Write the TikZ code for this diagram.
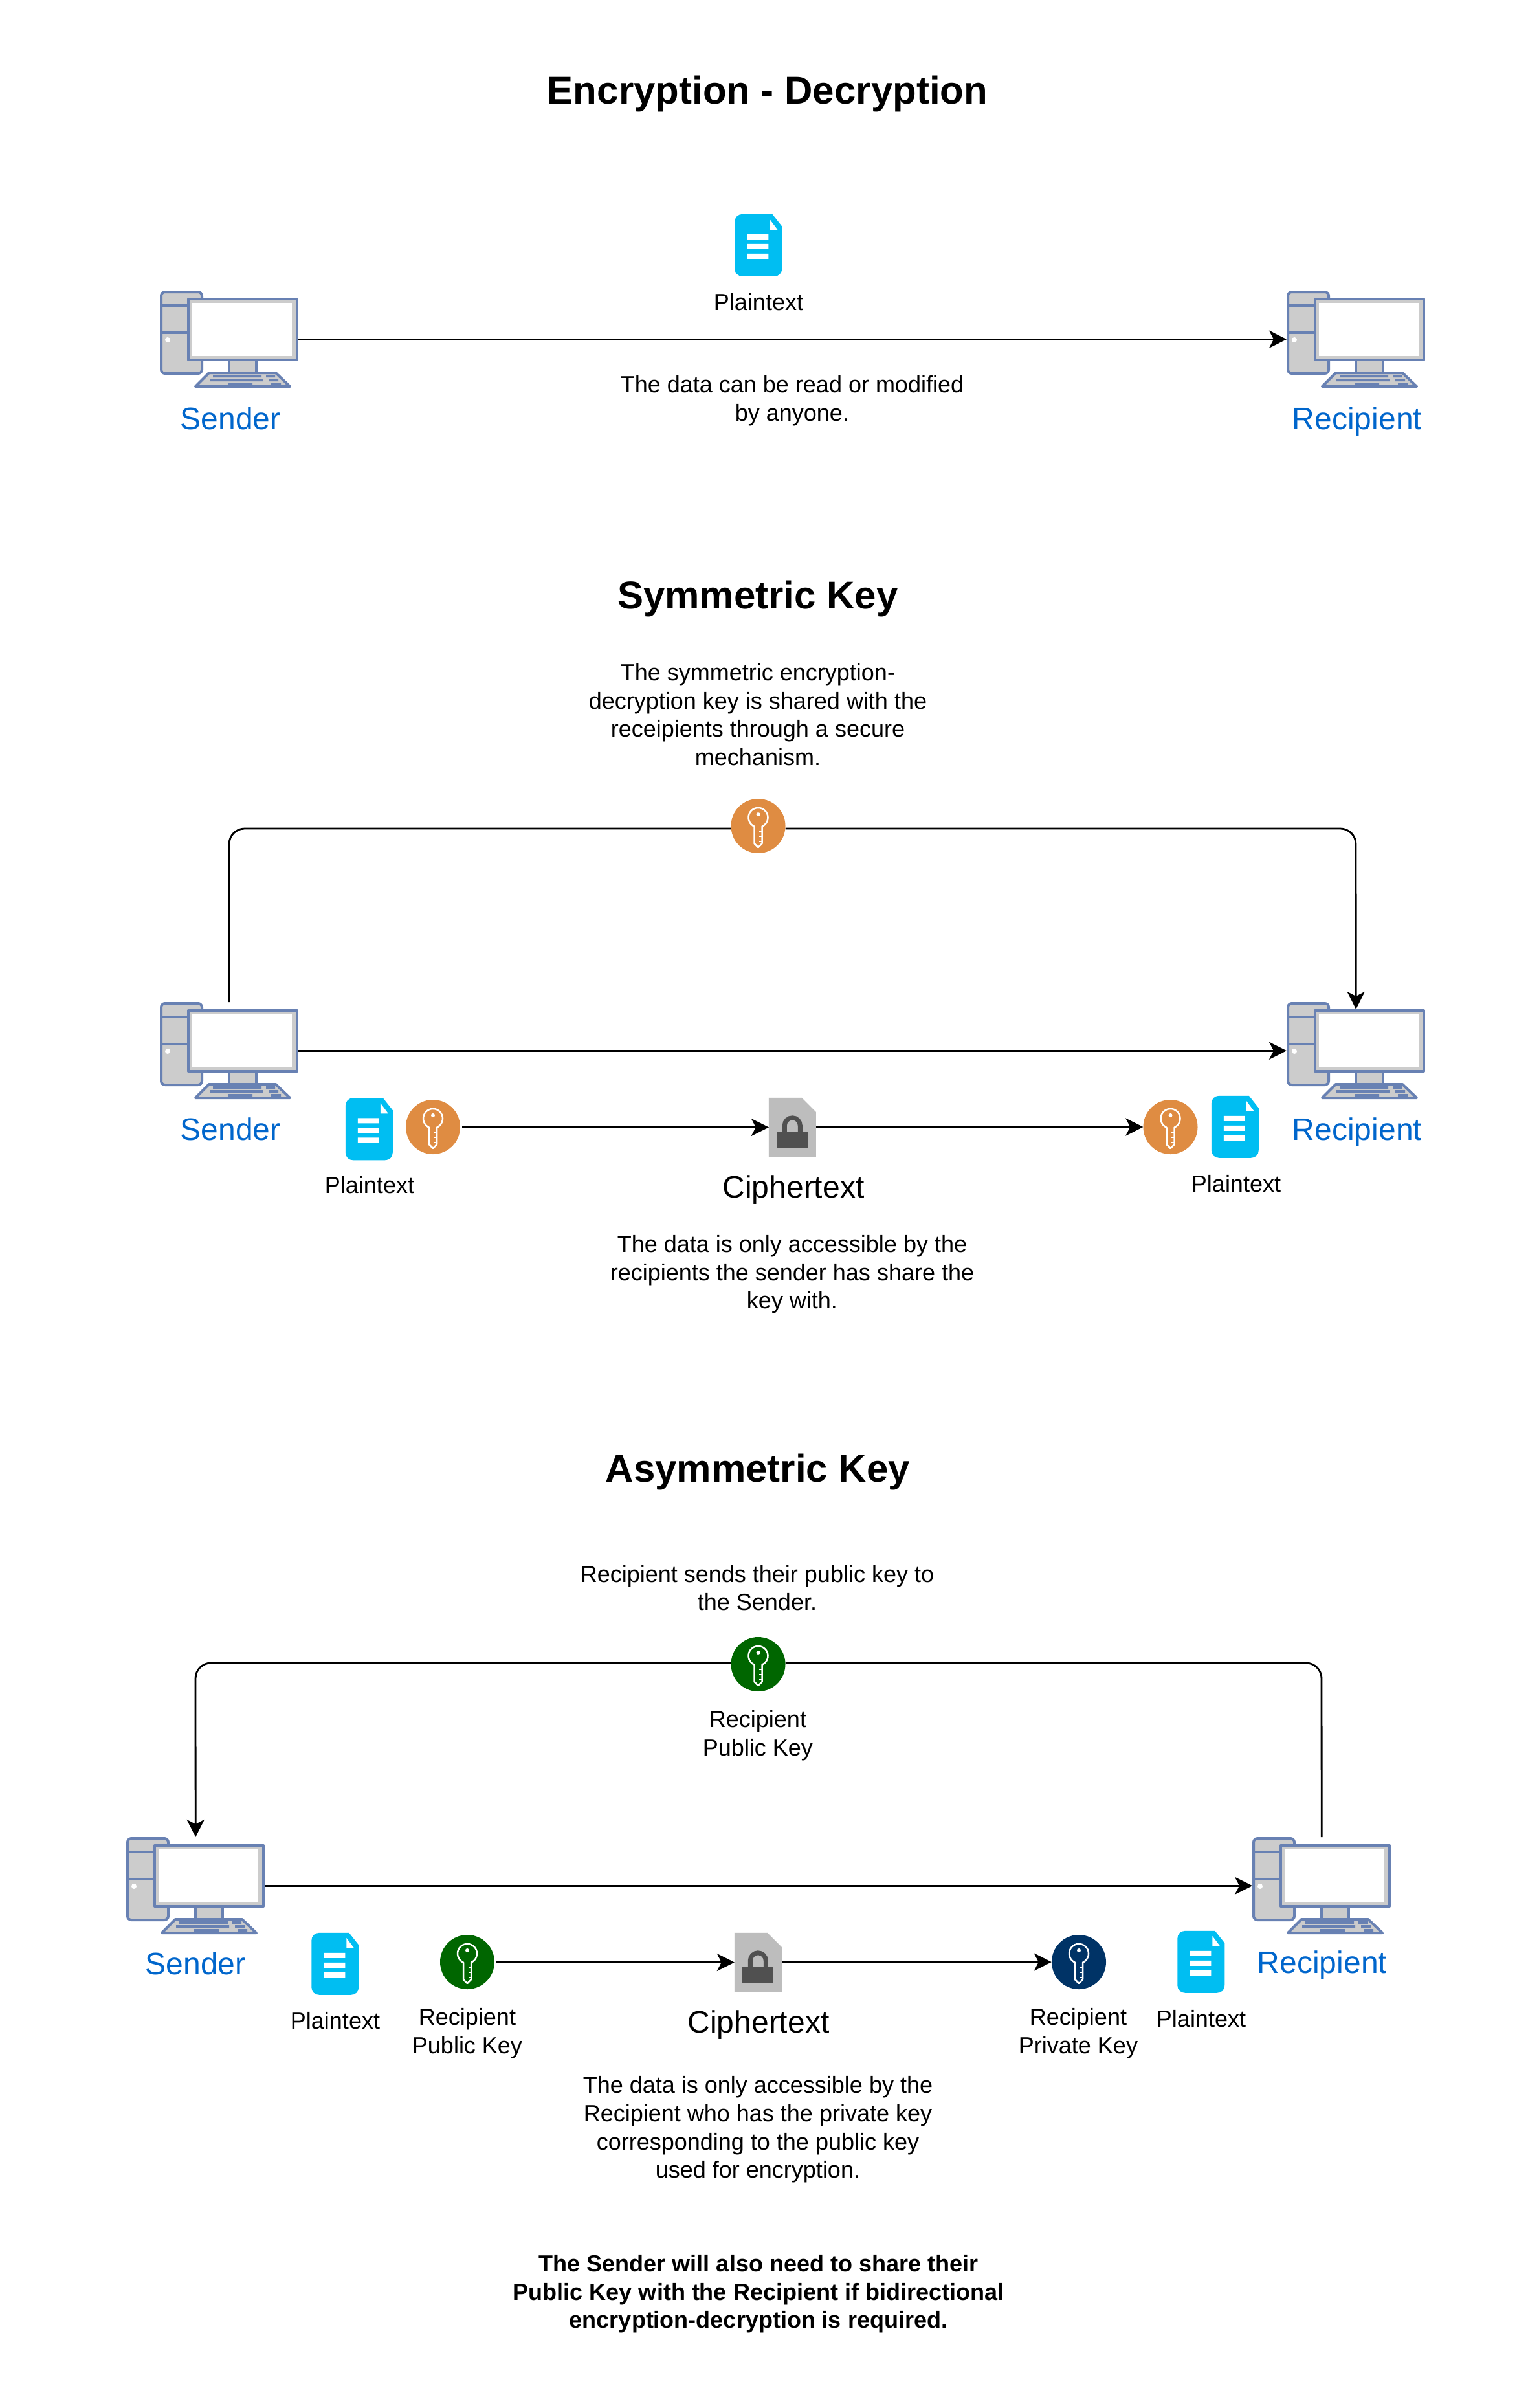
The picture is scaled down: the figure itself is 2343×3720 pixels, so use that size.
\documentclass[tikz,border=0pt]{standalone}
\usepackage{fontspec}
\setmainfont{Liberation Sans}
\usetikzlibrary{arrows.meta}
\definecolor{cedge}{HTML}{6881B3}
\definecolor{cfill}{HTML}{CCCCCC}
\definecolor{cblue}{HTML}{0066CC}
\definecolor{cdoc}{HTML}{00BEF2}
\definecolor{corange}{HTML}{DF8C42}
\definecolor{cgreen}{HTML}{006600}
\definecolor{cnavy}{HTML}{003366}
\definecolor{cgray}{HTML}{BDBDBD}
\definecolor{cdark}{HTML}{505050}
\tikzset{
  body/.style={inner sep=0pt,align=center,font=\fontsize{36}{43.6}\selectfont},
  big/.style={inner sep=0pt,align=center,font=\fontsize{48}{55}\selectfont},
  who/.style={inner sep=0pt,text=cblue,font=\fontsize{48}{55}\selectfont},
  title/.style={inner sep=0pt,align=center,font=\fontsize{60}{70}\selectfont\bfseries},
  conn/.style={line width=2.8pt,-{Stealth[length=27pt,width=27pt,inset=7pt]},rounded corners=24pt},
  plainconn/.style={line width=2.8pt,rounded corners=24pt},
  compn/.style={inner sep=0pt,minimum width=214pt,minimum height=150pt,anchor=north west},
  keyc/.style={circle,inner sep=0pt,minimum size=84pt},
  docn/.style={inner sep=0pt,minimum width=73pt,minimum height=96pt},
  ciphn/.style={inner sep=0pt,minimum width=73pt,minimum height=91pt}
}
% computer: #1 name, #2,#3 top-left of the icon
\newcommand{\computer}[3]{%
 \node[compn] (#1) at (#2,#3) {};
 \begin{scope}[shift={(#1.north west)},line width=4pt,draw=cedge,line join=round]
  \draw[fill=cfill,rounded corners=6pt] (2,2) rectangle (65,128);
  \draw (2,23) -- (65,23) (2,65) -- (65,65);
  \fill[white] (12,76) circle (4);
  \draw[fill=cfill] (107,107) rectangle (149,127);
  \draw[fill=cfill] (76,127) -- (179,127) -- (201,148) -- (55,148) -- cycle;
  \fill[cedge] (82,130) rectangle (157,134) (164,130) rectangle (178,134)
     (77,136) rectangle (159,140) (168,136) rectangle (183,140)
     (105,142) rectangle (143,146) (172,142) rectangle (187,146);
  \draw[fill=cfill] (44,13) rectangle (212,107);
  \fill[white] (50,19) rectangle (204,101);
 \end{scope}}
% document glyph on node #1
\newcommand{\docicon}[1]{%
 \begin{scope}[shift={(#1.north west)}]
  \fill[cdoc] (12,0) -- (58,0) -- (73,19) -- (73,84)
     .. controls (73,91) and (68,96) .. (61,96) -- (12,96)
     .. controls (5,96) and (0,91) .. (0,84) -- (0,12)
     .. controls (0,5) and (5,0) .. (12,0) -- cycle;
  \fill[white] (54,8) -- (66,24) -- (54,24) -- cycle;
  \fill[white] (19,31) rectangle (52,39) (19,46) rectangle (52,54) (19,61) rectangle (52,69);
 \end{scope}}
% cipher glyph on node #1
\newcommand{\ciphicon}[1]{%
 \begin{scope}[shift={(#1.north west)},y=1pt]
  \fill[cgray] (0,0) -- (51,0) -- (73,-22) -- (73,-91) -- (0,-91) -- cycle;
  \draw[cdark,line width=7pt] (24.5,-52) -- (24.5,-43) arc[start angle=180,end angle=0,radius=12] -- (48.5,-52);
  \fill[cdark] (12.5,-52) rectangle (60,-77);
 \end{scope}}
% key glyph on node #1
\newcommand{\keyicon}[1]{%
 \begin{scope}[shift={(#1.center)},y=1pt]
  \draw[white,line width=2.5pt,line join=round]
    (6,-0.7) arc[start angle=-66.4,end angle=246.4,radius=15]
    -- (-6,-27) -- (0,-33) -- (6,-27) -- cycle;
  \draw[white,line width=2.5pt] (6,-8) -- (1.5,-8) (6,-16) -- (1.5,-16) (6,-24) -- (1.5,-24);
  \fill[white] (0,18) circle (3);
 \end{scope}}
\begin{document}
\begin{tikzpicture}[x=1pt,y=-1pt]
\useasboundingbox (0,0) rectangle (2343,3720);
\fill[white] (0,0) rectangle (2343,3720);

% ---- section 1
\node[title] (t1) at (1186,145) {Encryption - Decryption};
\computer{sa}{247}{449}
\computer{ra}{1988}{449}
\node[who] (lsa) at (356,646) {Sender};
\node[who] (lra) at (2097,651) {Recipient};
\node[docn] (da) at (1172,379) {}; \docicon{da}
\node[body] (lda) at (1172,467) {Plaintext};
\node[body] (ta) at (1224,619) {The data can be read or modified\\by anyone.};
\draw[conn] (sa.east) -- (ra.west);

% ---- section 2
\node[title] (t2) at (1171,925) {Symmetric Key};
\node[body] (tb1) at (1171,1104) {The symmetric encryption-\\decryption key is shared with the\\receipients through a secure\\mechanism.};
\computer{sb}{247}{1548}
\computer{rb}{1988}{1548}
\node[who] (lsb) at (356,1744) {Sender};
\node[who] (lrb) at (2097,1749) {Recipient};
\node[keyc] (kb) at (1171.5,1276) {};
\draw[plainconn] (sb.north) -- (354,1280) -- (kb.west |- 0,1280);
\draw[conn] (kb.east |- 0,1280) -- (2095,1280) -- ([yshift=-11pt]rb.north);
\node[keyc,fill=corange] at (kb) {}; \keyicon{kb}
\draw[conn] (sb.east) -- (rb.west);
\node[docn] (db) at (570.5,1744.5) {}; \docicon{db}
\node[keyc,fill=corange] (kc) at (669,1741) {}; \keyicon{kc}
\node[ciphn] (cb) at (1224.5,1741.5) {}; \ciphicon{cb}
\node[keyc,fill=corange] (kd) at (1808.5,1741) {}; \keyicon{kd}
\node[docn] (dc) at (1908.5,1741) {}; \docicon{dc}
\draw[conn] ([xshift=3pt]kc.east) -- (cb.west);
\draw[conn] (cb.east) -- (kd.west);
\node[body] (ldb) at (571,1831) {Plaintext};
\node[body] (ldc) at (1910,1829) {Plaintext};
\node[big] (lcb) at (1226,1838) {Ciphertext};
\node[body] (tb2) at (1224,1969) {The data is only accessible by the\\recipients the sender has share the\\key with.};

% ---- section 3
\node[title] (t3) at (1171,2274) {Asymmetric Key};
\node[body] (tc1) at (1170,2453) {Recipient sends their public key to\\the Sender.};
\computer{sc}{195}{2838}
\computer{rc}{1935}{2838}
\node[who] (lsc) at (302,3033) {Sender};
\node[who] (lrc) at (2043,3036) {Recipient};
\node[keyc] (ke) at (1171.5,2571) {};
\draw[plainconn] (rc.north) -- (2042,2569) -- (ke.east |- 0,2569);
\draw[conn] (ke.west |- 0,2569) -- (302,2569) -- (sc.north);
\node[keyc,fill=cgreen] at (ke) {}; \keyicon{ke}
\node[body] (lke) at (1171,2681) {Recipient\\Public Key};
\draw[conn] (sc.east) -- (rc.west);
\node[docn] (dd) at (518,3034) {}; \docicon{dd}
\node[keyc,fill=cgreen] (kf) at (722,3031) {}; \keyicon{kf}
\node[ciphn] (cc) at (1171.5,3031.5) {}; \ciphicon{cc}
\node[keyc,fill=cnavy] (kg) at (1667,3031) {}; \keyicon{kg}
\node[docn] (de) at (1856,3031) {}; \docicon{de}
\draw[conn] ([xshift=3pt]kf.east) -- (cc.west);
\draw[conn] (cc.east) -- (kg.west);
\node[body] (ldd) at (518,3122) {Plaintext};
\node[body] (lkf) at (722,3141) {Recipient\\Public Key};
\node[big] (lcc) at (1172,3128) {Ciphertext};
\node[body] (lkg) at (1666,3141) {Recipient\\Private Key};
\node[body] (lde) at (1856,3119) {Plaintext};
\node[body] (tc2) at (1171,3290) {The data is only accessible by the\\Recipient who has the private key\\corresponding to the public key\\used for encryption.};
\node[body,font=\fontsize{36}{43.6}\selectfont\bfseries] (tc3) at (1172,3544) {The Sender will also need to share their\\Public Key with the Recipient if bidirectional\\encryption-decryption is required.};
\end{tikzpicture}
\end{document}
